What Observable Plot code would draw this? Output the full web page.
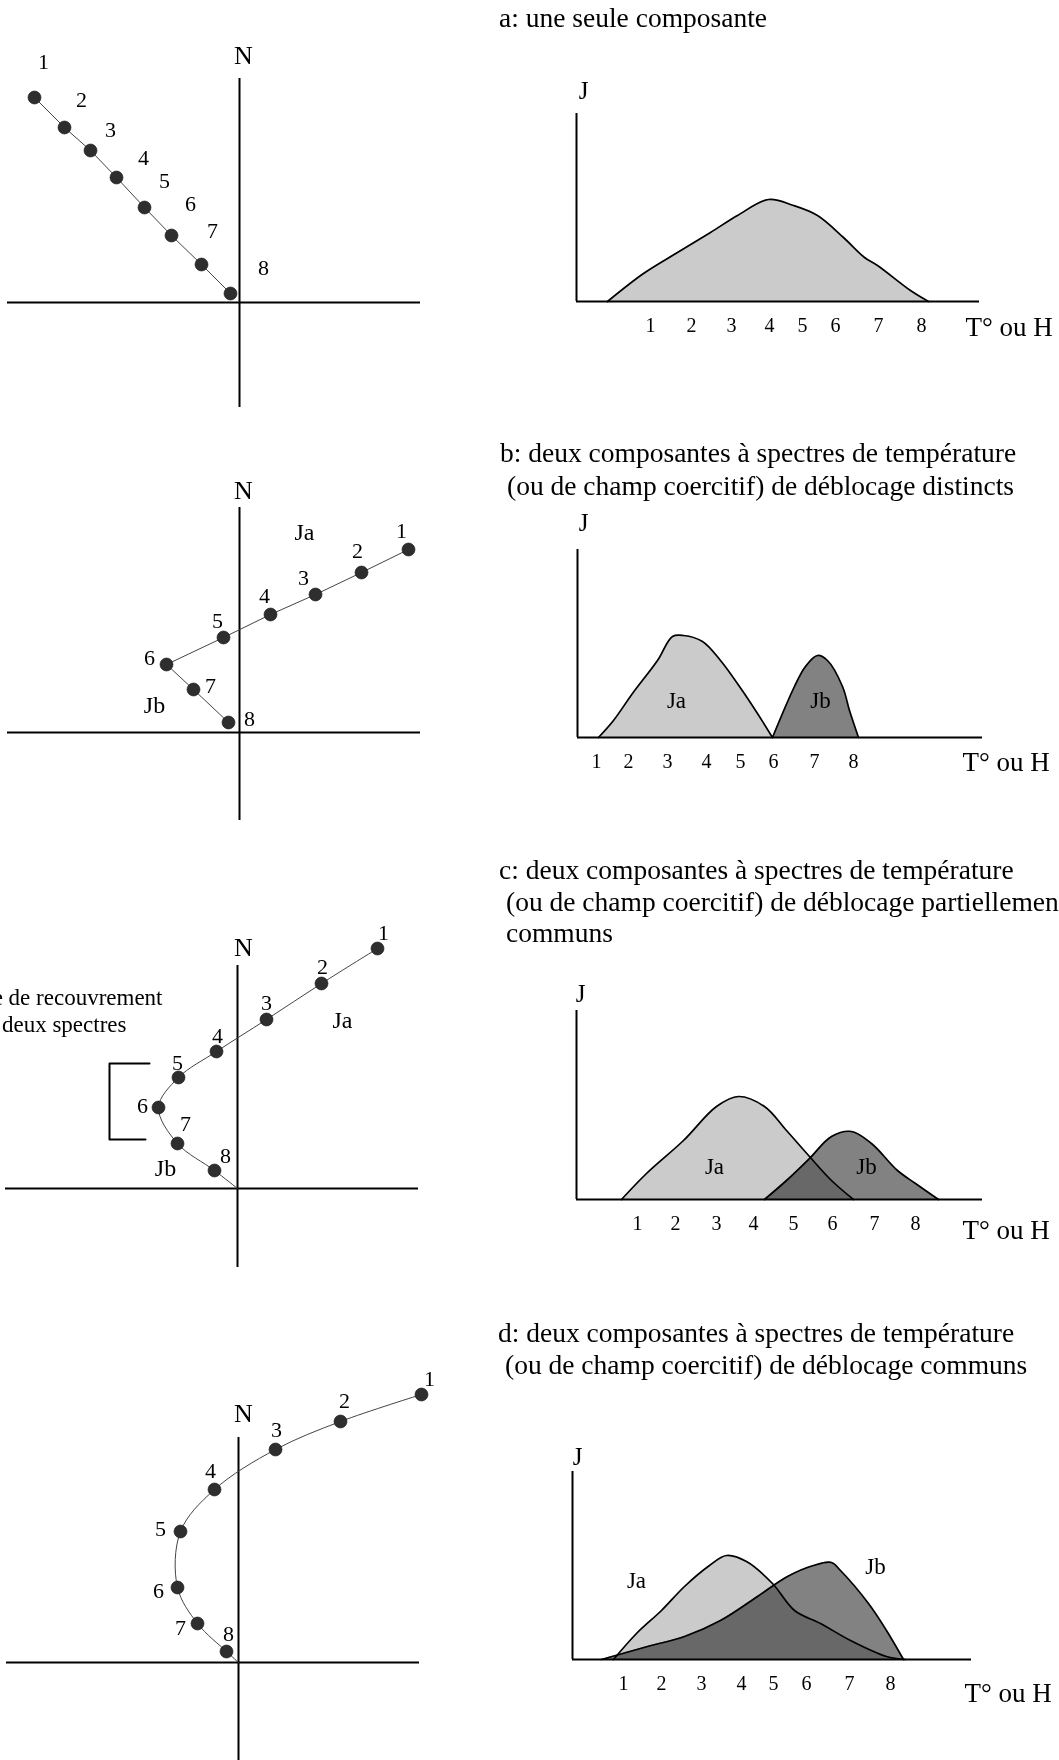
<!DOCTYPE html>
<html><head><meta charset="utf-8">
<script src="https://cdn.jsdelivr.net/npm/d3@7"></script>
<script src="https://cdn.jsdelivr.net/npm/@observablehq/plot@0.6"></script>
<style>
html,body{margin:0;padding:0;background:#fff;overflow:hidden;}
#fig{position:relative;width:1059px;height:1760px;overflow:hidden;background:#fff;font-family:"Liberation Serif","Times New Roman",serif;color:#000;}
.title{position:absolute;font-size:27.5px;line-height:27.5px;white-space:nowrap;}
#fig svg{position:absolute;max-width:none;overflow:visible;background:transparent;}
</style></head><body><div id="fig"></div>
<script>
// ---------- data ----------
const steps = ["1","2","3","4","5","6","7","8"];

// Left diagrams: E and N components of each step (arbitrary units)
const aE = [-20.5,-17.5,-14.9,-12.3,-9.5,-6.8,-3.8,-0.9];
const aN = [20.5,17.5,15.2,12.5,9.5,6.7,3.8,0.9];
const aLabE = [-19.6,-15.8,-12.9,-9.6,-7.5,-4.9,-2.7,2.4];
const aLabN = [24.1,20.3,17.3,14.5,12.2,9.9,7.2,3.5];

const bE = [16.9,12.2,7.6,3.1,-1.6,-7.3,-4.6,-1.1];
const bN = [18.3,16.0,13.8,11.8,9.5,6.8,4.3,1.0];
const bLabE = [16.2,11.8,6.4,2.5,-2.2,-9.0,-2.9,1.0];
const bLabN = [20.2,18.2,15.5,13.7,11.2,7.5,4.7,1.4];

const cE = [14.0,8.4,2.9,-2.1,-5.9,-7.9,-6.0,-2.3];
const cN = [24.0,20.5,16.9,13.7,11.1,8.1,4.5,1.8];
const cLabE = [14.6,8.5,2.9,-2.0,-6.0,-9.5,-5.2,-1.2];
const cLabN = [25.6,22.2,18.6,15.3,12.6,8.3,6.5,3.3];

const dE = [18.3,10.2,3.7,-2.4,-5.8,-6.1,-4.1,-1.2];
const dN = [26.8,24.1,21.3,17.3,13.1,7.5,3.9,1.1];
const dLabE = [19.1,10.6,3.8,-2.8,-7.8,-8.0,-5.8,-1.0];
const dLabN = [28.4,26.2,23.3,19.2,13.4,7.2,3.5,2.9];

// component labels in the left diagrams
const compNames = ["Ja","Jb"];
const bCompE = [6.5,-8.5];  const bCompN = [20.0,2.7];
const cCompE = [10.5,-7.2]; const cCompN = [16.8,2.0];

// overlap bracket (panel c)
const bracketE = [-8.8,-12.8,-12.8,-9.2];
const bracketN = [12.5,12.5,4.9,4.9];
const bracketText = ["Zone de recouvrement","des deux spectres"];
const bracketTextE = [-7.5,-11.1];
const bracketTextN = [19.1,16.4];

// axes extents (left diagrams)
const eAxis = [-23.2, 18.1];
const nAxisTop = [22.4,22.5,22.3,22.5];
const nAxisBottom = [-10.5,-8.8,-7.9,-9.8];
const nLabelE = [0.4,0.4,0.6,0.5];
const nLabelN = [24.7,24.2,24.1,24.9];

// Right spectra: T (heating step scale) and J (intensity)
const aT = [3.1,6.7,10.1,13.4,16.1,19.2,21.7,24.1,26.7,28.8,30.1,33.4,35.2];
const aJ = [0,2.8,4.9,6.9,8.6,10.2,9.6,8.6,6.4,4.4,3.6,1.1,0];

const bJaT = [2.1,3.6,5.5,8.0,9.5,10.6,12.5,14.3,16.2,18.0,19.5];
const bJaJ = [0,1.7,4.4,7.7,10.1,10.2,9.6,7.7,5.1,2.4,0];
const bJbT = [19.5,21.7,22.8,24.0,25.0,26.5,27.2,28.1];
const bJbJ = [0,5.1,7.1,8.2,7.7,5.1,2.7,0];

const cJaT = [4.5,7.0,10.7,14.0,16.2,18.8,21.0,23.3,25.5,27.7];
const cJaJ = [0,2.6,5.9,9.3,10.3,9.3,6.9,4.3,1.9,0];
const cJbT = [18.8,21.0,23.3,25.5,27.5,29.5,32.1,33.9,36.2];
const cJbJ = [0,1.9,4.1,6.3,6.8,5.6,2.9,1.6,0];

const dJaT = [4.1,6.4,8.9,11.2,13.7,15.4,17.4,20.0,22.2,24.8,27.8,31.4,33.3];
const dJaJ = [0,2.6,4.9,7.3,9.4,10.4,9.8,7.6,4.9,3.6,1.9,0.3,0];
const dJbT = [2.9,7.5,11.2,14.8,18.5,21.5,24.1,25.9,26.8,29.6,31.4,33.1];
const dJbJ = [0,1.3,2.3,3.9,6.3,8.3,9.4,9.7,8.9,5.6,2.9,0];

// tick positions of steps 1..8 on the T axis
const aTicks = [7.4,11.5,15.5,19.3,22.6,25.9,30.2,34.5];
const bTicks = [1.9,5.1,9.0,12.9,16.3,19.6,23.7,27.6];
const cTicks = [6.1,9.9,14.0,17.7,21.7,25.6,29.8,33.9];
const dTicks = [5.1,8.9,12.9,16.9,20.1,23.4,27.7,31.8];

const tAxisEnd = [40.3,40.5,40.6,39.9];
const jAxisTop = [18.8,18.8,18.9,18.8];
const jLabelT = [0.7,0.6,0.4,0.5];
const jLabelJ = [21.1,21.5,20.6,20.3];
const tLabelT = [38.9,38.5,38.6,39.2];
const tLabelJ = [-2.6,-2.5,-3.1,-3.4];

const bSpecLabT = [9.9,24.3];  const bSpecLabJ = [3.7,3.7];
const cSpecLabT = [13.8,29.0]; const cSpecLabJ = [3.3,3.3];
const dSpecLabT = [6.4,30.3];  const dSpecLabJ = [7.9,9.3];

const titles = [
  ["a: une seule composante"],
  ["b: deux composantes à spectres de température","(ou de champ coercitif) de déblocage distincts"],
  ["c: deux composantes à spectres de température","(ou de champ coercitif) de déblocage partiellement","communs"],
  ["d: deux composantes à spectres de température","(ou de champ coercitif) de déblocage communs"]
];

// ---------- drawing ----------
const fig = document.getElementById("fig");
const serif = "Liberation Serif";
const lightFill = "#cbcbcb";
const darkFill = "#828282";

function place(svg, left, top) {
  svg.style.left = left + "px";
  svg.style.top = top + "px";
  fig.appendChild(svg);
}

function leftPanel(k, E, N, labE, labN, opts, originX, originY) {
  const pts = steps.map((s, i) => ({s, e: E[i], n: N[i], le: labE[i], ln: labN[i]}));
  const path = opts.toOrigin ? pts.concat([{e: 0, n: 0}]) : pts;
  const marks = [
    Plot.ruleY([0], {x1: eAxis[0], x2: eAxis[1], stroke: "#000", strokeWidth: 2}),
    Plot.ruleX([0], {y1: nAxisBottom[k], y2: nAxisTop[k], stroke: "#000", strokeWidth: 2}),
    Plot.text(["N"], {x: nLabelE[k], y: nLabelN[k], text: d => d, fontSize: 26, fontFamily: serif}),
    Plot.line(path, {x: "e", y: "n", curve: opts.curve, stroke: "#444", strokeWidth: 1}),
    Plot.dot(pts, {x: "e", y: "n", r: 6.5, fill: "#2e2e2e", stroke: "#111", strokeWidth: 0.6}),
    Plot.text(pts, {x: "le", y: "ln", text: "s", fontSize: 22, fontFamily: serif})
  ];
  if (opts.comp) {
    marks.push(Plot.text(compNames, {x: (d, i) => opts.comp[0][i], y: (d, i) => opts.comp[1][i], text: d => d, fontSize: 24, fontFamily: serif}));
  }
  if (opts.bracket) {
    const br = bracketE.map((e, i) => ({e, n: bracketN[i]}));
    marks.push(Plot.line(br, {x: "e", y: "n", stroke: "#000", strokeWidth: 2}));
    marks.push(Plot.text(bracketText, {x: (d, i) => bracketTextE[i], y: (d, i) => bracketTextN[i], text: d => d, textAnchor: "end", fontSize: 23, fontFamily: serif}));
  }
  const svg = Plot.plot({
    width: 450, height: 430, margin: 0,
    x: {domain: [-23.9, 21.1], axis: null},
    y: {domain: [-13, 30], axis: null},
    style: {fontFamily: serif, background: "transparent", overflow: "visible"},
    marks
  });
  place(svg, originX - 239, originY - 300);
}

function rightPanel(k, series, ticks, labs, originX, originY) {
  const marks = [];
  series.forEach((sr, j) => {
    const data = sr.T.map((t, i) => ({t, j: sr.J[i]}));
    marks.push(Plot.areaY(data, {x: "t", y: "j", curve: "catmull-rom", fill: sr.fill, mixBlendMode: j > 0 ? "multiply" : undefined}));
  });
  series.forEach(sr => {
    const data = sr.T.map((t, i) => ({t, j: sr.J[i]}));
    marks.push(Plot.line(data, {x: "t", y: "j", curve: "catmull-rom", stroke: "#000", strokeWidth: 1.7}));
  });
  marks.push(
    Plot.ruleY([0], {x1: 0, x2: tAxisEnd[k], stroke: "#000", strokeWidth: 2}),
    Plot.ruleX([0], {y1: 0, y2: jAxisTop[k], stroke: "#000", strokeWidth: 2}),
    Plot.text(steps, {x: (d, i) => ticks[i], y: 0, dy: 24, text: d => d, fontSize: 20, fontFamily: serif}),
    Plot.text(["J"], {x: jLabelT[k], y: jLabelJ[k], text: d => d, fontSize: 25, fontFamily: serif}),
    Plot.text(["T° ou H"], {x: tLabelT[k], y: tLabelJ[k], text: d => d, textAnchor: "start", fontSize: 27, fontFamily: serif})
  );
  if (labs) {
    marks.push(Plot.text(compNames, {x: (d, i) => labs[0][i], y: (d, i) => labs[1][i], text: d => d, fontSize: 23, fontFamily: serif}));
  }
  const svg = Plot.plot({
    width: 520, height: 320, margin: 0,
    x: {domain: [-2, 50], axis: null},
    y: {domain: [-6, 26], axis: null},
    style: {fontFamily: serif, background: "transparent", overflow: "visible"},
    marks
  });
  place(svg, originX - 20, originY - 260);
}

// titles
const titleBaselines = [[27],[462,495],[879,911,942],[1342,1374]];
const titleLefts = [[499],[500,507],[499,506,506],[498,505]];
titles.forEach((lines, k) => {
  lines.forEach((txt, i) => {
    const div = document.createElement("div");
    div.className = "title";
    div.textContent = txt;
    div.style.left = titleLefts[k][i] + "px";
    div.style.top = (titleBaselines[k][i] - 23) + "px";
    fig.appendChild(div);
  });
});

leftPanel(0, aE, aN, aLabE, aLabN, {curve: "linear"}, 239, 302);
leftPanel(1, bE, bN, bLabE, bLabN, {curve: "linear", comp: [bCompE, bCompN]}, 239, 732);
leftPanel(2, cE, cN, cLabE, cLabN, {curve: "catmull-rom", toOrigin: true, comp: [cCompE, cCompN], bracket: true}, 237, 1188);
leftPanel(3, dE, dN, dLabE, dLabN, {curve: "catmull-rom", toOrigin: true}, 238, 1662);

rightPanel(0, [{T: aT, J: aJ, fill: lightFill}], aTicks, null, 576, 301);
rightPanel(1, [{T: bJaT, J: bJaJ, fill: lightFill}, {T: bJbT, J: bJbJ, fill: darkFill}], bTicks, [bSpecLabT, bSpecLabJ], 577, 737);
rightPanel(2, [{T: cJaT, J: cJaJ, fill: lightFill}, {T: cJbT, J: cJbJ, fill: darkFill}], cTicks, [cSpecLabT, cSpecLabJ], 576, 1199);
rightPanel(3, [{T: dJaT, J: dJaJ, fill: lightFill}, {T: dJbT, J: dJbJ, fill: darkFill}], dTicks, [dSpecLabT, dSpecLabJ], 572, 1659);
</script></body></html>
